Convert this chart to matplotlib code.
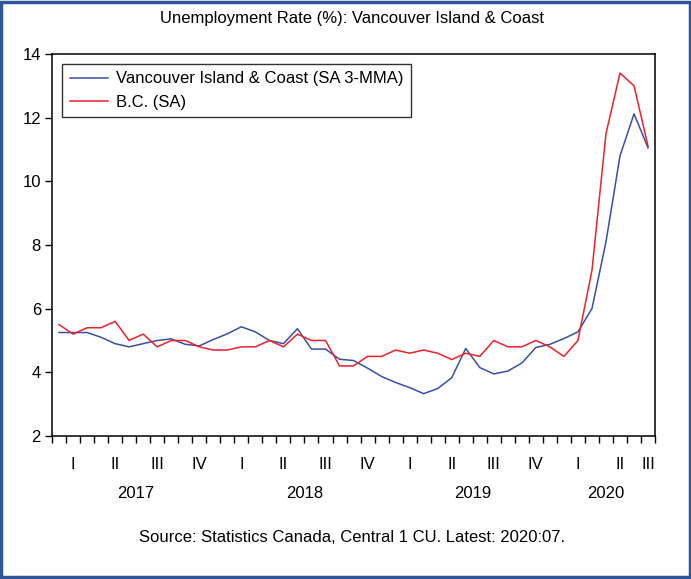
import numpy as np
import matplotlib.pyplot as plt
import matplotlib.transforms as mtransforms
from matplotlib.patches import Rectangle

plt.rcParams['font.family'] = ['Liberation Sans', 'DejaVu Sans']

# monthly data, 2017:01 - 2020:07
vi_coast = [5.25, 5.25, 5.25, 5.1, 4.9, 4.8, 4.9, 5.0, 5.05, 4.88,
            4.83, 5.03, 5.21, 5.43, 5.27, 5.0, 4.9, 5.37, 4.73, 4.73,
            4.41, 4.37, 4.13, 3.87, 3.68, 3.52, 3.33, 3.49, 3.83, 4.75,
            4.15, 3.95, 4.04, 4.29, 4.78, 4.88, 5.06, 5.27, 6.0, 8.1,
            10.8, 12.12, 11.05]
bc = [5.5, 5.2, 5.4, 5.4, 5.6, 5.0, 5.2, 4.8, 5.0, 5.0,
      4.8, 4.7, 4.7, 4.8, 4.8, 5.0, 4.8, 5.2, 5.0, 5.0,
      4.2, 4.2, 4.5, 4.5, 4.7, 4.6, 4.7, 4.6, 4.4, 4.6,
      4.5, 5.0, 4.8, 4.8, 5.0, 4.8, 4.5, 5.0, 7.2, 11.5,
      13.4, 13.0, 11.1]
quarter_labels = ['I', 'II', 'III', 'IV'] * 3 + ['I', 'II', 'III']
years = ['2017', '2018', '2019', '2020']

months = np.arange(len(bc))

fig = plt.figure(figsize=(6.91, 5.79), dpi=100)
ax = fig.add_axes([0.0753, 0.247, 0.8727, 0.6598])

ax.plot(months, vi_coast, color='#3650A8', lw=1.1, label='Vancouver Island & Coast (SA 3-MMA)')
ax.plot(months, bc, color='#F0202A', lw=1.1, label='B.C. (SA)')

ax.set_xlim(-0.5, len(bc) - 0.5)
ax.set_ylim(2, 14)
ax.set_yticks(range(2, 15, 2))
ax.tick_params(axis='y', direction='out', length=5, width=1, labelsize=12, pad=3)

# month ticks (minor) and quarter labels (major, no tick)
ax.set_xticks(np.arange(-0.5, len(bc), 1), minor=True)
qpos = [min(3 * q + 1, len(bc) - 1) for q in range(len(quarter_labels))]
ax.set_xticks(qpos)
ax.set_xticklabels(quarter_labels)
ax.tick_params(axis='x', which='major', length=0, labelsize=12, pad=15)
ax.tick_params(axis='x', which='minor', direction='out', length=5, width=1)

trans = mtransforms.blended_transform_factory(ax.transData, ax.transAxes)
for k, yr in enumerate(years):
    start = 12 * k
    end = min(12 * k + 11, len(bc) - 1)
    ax.text((start + end) / 2, -0.15, yr, transform=trans, ha='center', va='center', fontsize=12)

for sp in ax.spines.values():
    sp.set_linewidth(1.1)

leg = ax.legend(loc='upper left', fontsize=12, fancybox=False, edgecolor='#333333',
                framealpha=1, handlelength=2.3, handletextpad=0.5, borderaxespad=0.6,
                labelspacing=0.5, borderpad=0.45)
leg.get_frame().set_linewidth(1.0)

fig.text(0.51, 0.968, 'Unemployment Rate (%): Vancouver Island & Coast', ha='center', va='center', fontsize=12)
fig.text(0.509, 0.071, 'Source: Statistics Canada, Central 1 CU. Latest: 2020:07.', ha='center', va='center', fontsize=12)

fig.patches.append(Rectangle((0.002, 0.003), 0.996, 0.994, transform=fig.transFigure,
                             fill=False, edgecolor='#2E5597', linewidth=2.5))

fig.savefig('out.png', dpi=100)
